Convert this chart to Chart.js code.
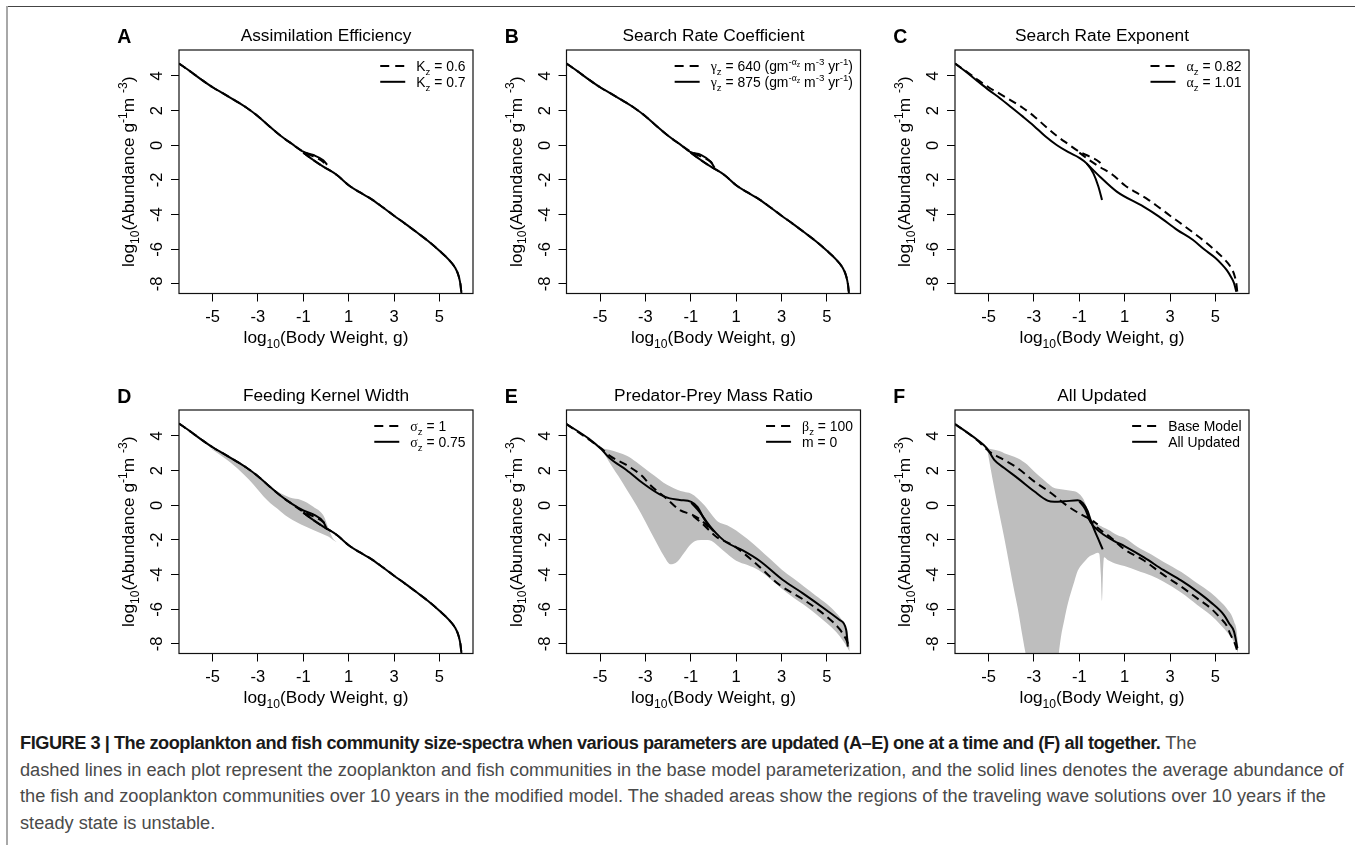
<!DOCTYPE html>
<html>
<head>
<meta charset="utf-8">
<script src="https://cdn.jsdelivr.net/npm/chart.js@4.4.1/dist/chart.umd.min.js"></script>
<style>
html, body { margin: 0; padding: 0; background: #fff; }
body { width: 1355px; height: 845px; position: relative; overflow: hidden; font-family: "Liberation Sans", Arial, sans-serif; }
canvas { position: absolute; }
#topline { position: absolute; left: 7px; top: 6px; width: 1348px; height: 1px; background: #444; }
#sideline { position: absolute; left: 6px; top: 6px; width: 2px; height: 839px; background: #a8a8a8; }
#caption { position: absolute; left: 20px; top: 730px; font-size: 16px; line-height: 26.7px; color: #4a4a4a; white-space: nowrap; }
#caption b { color: #1a1a1a; letter-spacing: -0.48px; }
</style>
</head>
<body>
<div id="topline"></div>
<div id="sideline"></div>
<div id="caption">
  <div><b>FIGURE 3 | The zooplankton and fish community size-spectra when various parameters are updated (A–E) one at a time and (F) all together.</b> The</div>
  <div id="l2">dashed lines in each plot represent the zooplankton and fish communities in the base model parameterization, and the solid lines denotes the average abundance of</div>
  <div>the fish and zooplankton communities over 10 years in the modified model. The shaded areas show the regions of the traveling wave solutions over 10 years if the</div>
  <div>steady state is unstable.</div>
</div>
<script>
// axes
const X_TICKS = [-5, -3, -1, 1, 3, 5];
const Y_TICKS = [-8, -6, -4, -2, 0, 2, 4];
const X_MIN = -6.48, X_MAX = 6.48, Y_MIN = -8.55, Y_MAX = 5.5;

// base model (dashed in A-D)
const baseZooX = [-6.48, -6.0, -5.5, -5.0, -4.5, -4.0, -3.5, -3.0, -2.5, -2.0, -1.5, -1.0, -0.56, -0.12, 0.05];
const baseZooY = [4.72, 4.28, 3.8, 3.35, 2.97, 2.58, 2.17, 1.68, 1.1, 0.55, 0.08, -0.37, -0.64, -0.96, -1.25];
const baseFishX = [-1.0, -0.56, -0.12, 0.48, 1.0, 1.5, 2.0, 2.5, 3.0, 3.5, 4.0, 4.5, 5.0, 5.4, 5.7, 5.85, 5.93, 5.97];
const baseFishY = [-0.42, -0.85, -1.23, -1.71, -2.3, -2.72, -3.1, -3.57, -4.06, -4.53, -5.02, -5.52, -6.08, -6.58, -7.08, -7.55, -8.05, -8.55];

// A: assimilation efficiency (solid)
const aZooY = [4.72, 4.28, 3.8, 3.35, 2.97, 2.58, 2.17, 1.68, 1.1, 0.55, 0.08, -0.37, -0.56, -0.86, -1.12];
// B: search rate coefficient (solid)
const bZooY = [4.72, 4.28, 3.8, 3.35, 2.97, 2.58, 2.17, 1.68, 1.1, 0.55, 0.08, -0.4, -0.55, -0.95, -1.3];

// C: search rate exponent (solid)
const cZooX = [-6.48, -6.0, -5.5, -5.0, -4.5, -4.0, -3.5, -3.0, -2.5, -2.0, -1.5, -1.0, -0.68, -0.38, -0.16, 0.0];
const cZooY = [4.72, 4.25, 3.72, 3.2, 2.72, 2.2, 1.67, 1.12, 0.52, 0.02, -0.38, -0.72, -1.04, -1.62, -2.38, -3.15];
const cFishX = [-0.68, -0.09, 0.65, 1.83, 2.5, 3.31, 4.0, 4.5, 5.0, 5.24, 5.5, 5.68, 5.82, 5.92];
const cFishY = [-1.04, -1.81, -2.67, -3.54, -4.1, -4.88, -5.45, -6.0, -6.5, -6.81, -7.2, -7.58, -7.95, -8.45];

// D: feeding kernel width (solid) + shaded range
const dZooY = [4.72, 4.28, 3.8, 3.35, 2.97, 2.58, 2.17, 1.68, 1.1, 0.55, 0.08, -0.3, -0.52, -0.95, -1.4];
const dShadeX = [-5.1, -4.6, -4.2, -3.6, -3.2, -2.6, -2.0, -1.6, -1.1, -0.56, -0.1, 0.1, 0.3, 0.5, 0.6];
const dShadeUp = [3.3, 3.05, 2.8, 2.3, 1.85, 1.2, 0.69, 0.45, 0.31, -0.08, -0.62, -1.3, -1.9, -2.15, -2.28];
const dShadeLo = [3.3, 2.85, 2.45, 1.75, 1.2, 0.3, -0.35, -0.75, -1.1, -1.42, -1.68, -1.8, -1.98, -2.15, -2.28];

// E: predator-prey mass ratio
const eDashZooX = [-6.48, -5.5, -4.94, -4.57, -3.84, -3.11, -2.81, -2.08, -1.49, -0.91, -0.47, -0.17];
const eDashZooY = [4.69, 3.8, 3.28, 2.85, 2.33, 1.65, 1.2, 0.4, -0.27, -0.56, -0.94, -1.33];
const eDashFishX = [-0.9, -0.5, 0.12, 0.85, 1.73, 2.92, 3.94, 4.97, 5.56, 5.85, 6.0];
const eDashFishY = [-0.62, -1.05, -1.81, -2.3, -3.2, -4.6, -5.42, -6.4, -7.15, -7.75, -8.2];
const eZooX = [-6.48, -5.5, -4.94, -4.57, -3.84, -3.11, -2.37, -1.93, -1.49, -0.98, -0.7, -0.45, -0.2, 0.02];
const eZooY = [4.69, 3.85, 3.23, 2.71, 2.04, 1.27, 0.63, 0.4, 0.31, 0.2, -0.1, -0.7, -1.2, -1.5];
const eFishX = [-0.98, -0.6, -0.3, 0.0, 0.3, 0.56, 1.29, 2.03, 3.06, 3.94, 4.97, 5.56, 5.85, 5.92];
const eFishY = [0.15, -0.4, -0.95, -1.45, -1.85, -2.13, -2.6, -3.2, -4.31, -5.08, -6.04, -6.62, -7.19, -8.15];
const eShadeX = [-4.95, -4.6, -4.2, -3.8, -3.4, -3.0, -2.6, -2.2, -1.9, -1.6, -1.3, -1.0, -0.7, -0.4, -0.1, 0.2, 0.6, 1.0, 1.5, 2.0, 2.5, 3.0, 3.5, 4.0, 4.5, 5.0, 5.4, 5.7, 5.9, 6.0];
const eShadeUp = [3.3, 3.2, 3.05, 2.85, 2.5, 2.1, 1.7, 1.3, 1.08, 0.9, 0.78, 0.68, 0.4, 0.0, -0.5, -0.95, -1.15, -1.45, -1.95, -2.5, -3.1, -3.7, -4.2, -4.7, -5.2, -5.7, -6.2, -6.7, -7.3, -8.1];
const eShadeLo = [3.3, 2.5, 1.7, 0.85, 0.0, -0.95, -1.95, -2.9, -3.4, -3.25, -2.75, -2.25, -2.02, -2.0, -2.05, -2.35, -2.8, -3.2, -3.45, -3.75, -4.25, -4.8, -5.3, -5.75, -6.25, -6.8, -7.3, -7.8, -8.2, -8.45];

// F: all updated
const fDashZooX = [-6.48, -5.5, -4.97, -4.46, -3.72, -2.99, -2.25, -1.51, -0.78, -0.49, -0.19];
const fDashZooY = [4.69, 3.75, 3.1, 2.72, 2.15, 1.38, 0.71, -0.05, -0.63, -0.82, -1.1];
const fDashFishX = [-0.63, -0.19, 0.4, 0.99, 1.87, 2.7, 3.5, 4.2, 4.8, 5.23, 5.5, 5.67, 5.85, 5.95];
const fDashFishY = [-0.72, -1.3, -1.87, -2.54, -3.2, -4.0, -4.7, -5.37, -5.95, -6.52, -6.95, -7.48, -7.95, -8.35];
const fZooX = [-6.48, -5.5, -5.07, -4.75, -4.31, -3.72, -2.99, -2.4, -2.1, -1.66, -1.07, -0.85, -0.63, -0.49, -0.19, 0.03];
const fZooY = [4.69, 3.78, 3.29, 2.62, 2.15, 1.57, 0.81, 0.27, 0.2, 0.23, 0.29, 0.14, -0.34, -0.91, -1.87, -2.54];
const fFishX = [-1.0, -0.75, -0.49, -0.04, 0.54, 0.99, 1.87, 2.7, 3.5, 4.2, 4.8, 5.38, 5.6, 5.82, 5.97];
const fFishY = [0.23, -0.2, -1.01, -1.58, -2.06, -2.35, -3.02, -3.73, -4.35, -4.98, -5.6, -6.33, -6.8, -7.29, -8.25];
const fShadeX = [-5.07, -4.75, -4.46, -4.31, -3.87, -3.72, -3.5, -3.3, -2.99, -2.6, -2.4, -2.1, -1.81, -1.66, -1.51, -1.22, -1.07, -0.85, -0.71, -0.56, -0.35, -0.19, -0.12, -0.05, 0.0, 0.04, 0.09, 0.25, 0.69, 0.99, 1.57, 2.16, 2.7, 3.5, 4.2, 4.8, 5.23, 5.5, 5.82, 5.97, 6.0];
const fShadeUp = [3.3, 3.2, 3.1, 3.0, 2.8, 2.72, 2.55, 2.35, 1.95, 1.5, 1.28, 1.0, 0.93, 0.9, 0.87, 0.81, 0.72, 0.42, 0.04, -0.55, -0.95, -1.1, -1.15, -1.2, -1.24, -1.27, -1.3, -1.39, -1.72, -1.87, -2.4, -2.83, -3.25, -3.85, -4.5, -5.05, -5.56, -5.95, -6.71, -7.67, -8.5];
const fShadeLo = [3.3, 1.0, -0.9, -1.87, -4.93, -5.9, -7.6, -9.0, -10.5, -11.5, -11.5, -10.5, -7.6, -6.6, -5.7, -4.4, -3.78, -3.35, -3.15, -2.95, -2.82, -2.73, -2.8, -4.0, -5.5, -4.0, -3.0, -3.15, -3.4, -3.5, -3.78, -4.05, -4.4, -5.05, -5.75, -6.35, -6.9, -7.3, -7.9, -8.44, -8.5];

const FONT = '"Liberation Sans", Arial, sans-serif';
const GREEK = '"Liberation Serif", "DejaVu Serif", serif';
const DASH = [8, 5];

const pts = (xs, ys) => xs.map((x, i) => ({ x, y: ys[i] }));

function line(xs, ys, dashed) {
    return {
        data: pts(xs, ys), borderColor: '#000', borderWidth: 2, borderDash: dashed ? DASH : [],
        borderJoinStyle: 'round', pointRadius: 0, fill: false, cubicInterpolationMode: 'monotone', order: 0
    };
}
function shade(xs, up, lo) {
    return [
        { data: pts(xs, up), borderWidth: 0, pointRadius: 0, fill: '+1', backgroundColor: '#bebebe', cubicInterpolationMode: 'monotone', order: 10 },
        { data: pts(xs, lo), borderWidth: 0, pointRadius: 0, fill: false, cubicInterpolationMode: 'monotone', order: 10 }
    ];
}

// rich text: [text, mode, greek]
const MODES = { n: [1, 0], sub: [0.7, 0.28], sup: [0.7, -0.42], ss: [0.5, -0.3] };
function richFont(p, size) {
    const m = MODES[p[1] || 'n'];
    return (m[0] * size) + 'px ' + (p[2] ? GREEK : FONT);
}
function richWidth(ctx, parts, size) {
    let w = 0;
    parts.forEach(p => { ctx.font = richFont(p, size); w += ctx.measureText(p[0]).width; });
    return w;
}
function drawRich(ctx, parts, x, y, size, align) {
    let cx = align === 'center' ? x - richWidth(ctx, parts, size) / 2 : x;
    ctx.textAlign = 'left';
    ctx.textBaseline = 'alphabetic';
    parts.forEach(p => {
        const m = MODES[p[1] || 'n'];
        ctx.font = richFont(p, size);
        ctx.fillText(p[0], cx, y + m[1] * size);
        cx += ctx.measureText(p[0]).width;
    });
}

const X_LABEL = [['log'], ['10', 'sub'], ['(Body Weight, g)']];
const Y_LABEL = [['log'], ['10', 'sub'], ['(Abundance g'], ['-1', 'sup'], ['m '], ['-3', 'sup'], [')']];

const panelDeco = {
    id: 'panelDeco',
    afterDraw(chart, args, o) {
        const ctx = chart.ctx, a = chart.chartArea;
        const xs = chart.scales.x, ys = chart.scales.y;
        ctx.save();
        ctx.fillStyle = '#000';
        ctx.strokeStyle = '#111';
        ctx.lineWidth = 1.2;
        ctx.strokeRect(a.left, a.top, a.right - a.left, a.bottom - a.top);

        // tick labels
        ctx.font = '16.5px ' + FONT;
        ctx.textAlign = 'center';
        ctx.textBaseline = 'alphabetic';
        X_TICKS.forEach(v => ctx.fillText(String(v), xs.getPixelForValue(v), a.bottom + 28));
        Y_TICKS.forEach(v => {
            ctx.save();
            ctx.translate(a.left - 17, ys.getPixelForValue(v));
            ctx.rotate(-Math.PI / 2);
            ctx.fillText(String(v), 0, 0);
            ctx.restore();
        });

        // axis titles
        drawRich(ctx, X_LABEL, (a.left + a.right) / 2, a.bottom + 49.5, 17.3, 'center');
        ctx.save();
        ctx.translate(a.left - 45, (a.top + a.bottom) / 2);
        ctx.rotate(-Math.PI / 2);
        drawRich(ctx, Y_LABEL, 0, 0, 17.3, 'center');
        ctx.restore();

        // title and panel letter
        ctx.font = '17.3px ' + FONT;
        ctx.textAlign = 'center';
        ctx.fillText(o.title, (a.left + a.right) / 2, a.top - 9.3);
        ctx.font = 'bold 19.5px ' + FONT;
        ctx.textAlign = 'left';
        ctx.fillText(o.letter, a.left - 61.7, a.top - 7);

        // legend (top right, no box)
        const size = 13.9;
        const maxW = Math.max(...o.legend.map(e => richWidth(ctx, e, size)));
        const tx = a.right - 7.5 - maxW;
        o.legend.forEach((e, i) => {
            const cy = a.top + 16 + i * 15.8;
            ctx.beginPath();
            ctx.lineWidth = 2;
            ctx.strokeStyle = '#000';
            ctx.setLineDash(i === 0 ? [9, 6] : []);
            ctx.moveTo(tx - 36, cy);
            ctx.lineTo(tx - 11, cy);
            ctx.stroke();
            ctx.setLineDash([]);
            drawRich(ctx, e, tx, cy + 5, size, 'left');
        });
        ctx.restore();
    }
};

const sz = ['z', 'sub'];
const panels = [
    { letter: 'A', title: 'Assimilation Efficiency', cl: 179, ct: 50,
      legend: [[['K'], sz, [' = 0.6']], [['K'], sz, [' = 0.7']]],
      datasets: [line(baseZooX, baseZooY, true), line(baseFishX, baseFishY, true), line(baseZooX, aZooY, false), line(baseFishX, baseFishY, false)] },
    { letter: 'B', title: 'Search Rate Coefficient', cl: 566.5, ct: 50,
      legend: [
        [['γ', 'n', 1], sz, [' = 640 (gm'], ['-', 'sup'], ['α', 'sup', 1], ['z', 'ss'], [' m'], ['-3', 'sup'], [' yr'], ['-1', 'sup'], [')']],
        [['γ', 'n', 1], sz, [' = 875 (gm'], ['-', 'sup'], ['α', 'sup', 1], ['z', 'ss'], [' m'], ['-3', 'sup'], [' yr'], ['-1', 'sup'], [')']]
      ],
      datasets: [line(baseZooX, baseZooY, true), line(baseFishX, baseFishY, true), line(baseZooX, bZooY, false), line(baseFishX, baseFishY, false)] },
    { letter: 'C', title: 'Search Rate Exponent', cl: 955, ct: 50,
      legend: [[['α', 'n', 1], sz, [' = 0.82']], [['α', 'n', 1], sz, [' = 1.01']]],
      datasets: [line(baseZooX, baseZooY, true), line(baseFishX, baseFishY, true), line(cZooX, cZooY, false), line(cFishX, cFishY, false)] },
    { letter: 'D', title: 'Feeding Kernel Width', cl: 179, ct: 410,
      legend: [[['σ', 'n', 1], sz, [' = 1']], [['σ', 'n', 1], sz, [' = 0.75']]],
      datasets: [...shade(dShadeX, dShadeUp, dShadeLo), line(baseZooX, baseZooY, true), line(baseFishX, baseFishY, true), line(baseZooX, dZooY, false), line(baseFishX, baseFishY, false)] },
    { letter: 'E', title: 'Predator-Prey Mass Ratio', cl: 566.5, ct: 410,
      legend: [[['β', 'n', 1], sz, [' = 100']], [['m = 0']]],
      datasets: [...shade(eShadeX, eShadeUp, eShadeLo), line(eDashZooX, eDashZooY, true), line(eDashFishX, eDashFishY, true), line(eZooX, eZooY, false), line(eFishX, eFishY, false)] },
    { letter: 'F', title: 'All Updated', cl: 955, ct: 410,
      legend: [[['Base Model']], [['All Updated']]],
      datasets: [...shade(fShadeX, fShadeUp, fShadeLo), line(fDashZooX, fDashZooY, true), line(fDashFishX, fDashFishY, true), line(fZooX, fZooY, false), line(fFishX, fFishY, false)] }
];

const CW = 294, CH = 243.5, YW = 60, XH = 40;
panels.forEach(p => {
    const left = Math.floor(p.cl - 125), top = p.ct - 50;
    const cv = document.createElement('canvas');
    cv.width = 431; cv.height = 355;
    cv.style.left = left + 'px'; cv.style.top = top + 'px';
    document.body.appendChild(cv);
    const axisGrid = { drawOnChartArea: false, drawTicks: true, tickLength: 8, color: '#000', lineWidth: 1 };
    new Chart(cv, {
        type: 'line',
        data: { datasets: p.datasets },
        options: {
            responsive: false, animation: false, events: [],
            layout: { padding: { left: p.cl - left - YW, top: 50, right: 431 - (p.cl - left) - CW, bottom: 355 - 50 - CH - XH } },
            plugins: { legend: { display: false }, tooltip: { enabled: false }, filler: { drawTime: 'beforeDatasetsDraw' },
                       panelDeco: { letter: p.letter, title: p.title, legend: p.legend } },
            scales: {
                x: { type: 'linear', min: X_MIN, max: X_MAX, bounds: 'data',
                     afterBuildTicks: s => { s.ticks = X_TICKS.map(v => ({ value: v })); },
                     afterFit: s => { s.height = XH; },
                     ticks: { display: false }, grid: axisGrid, border: { display: false } },
                y: { type: 'linear', min: Y_MIN, max: Y_MAX, bounds: 'data',
                     afterBuildTicks: s => { s.ticks = Y_TICKS.map(v => ({ value: v })); },
                     afterFit: s => { s.width = YW; },
                     ticks: { display: false }, grid: axisGrid, border: { display: false } }
            }
        },
        plugins: [panelDeco]
    });
});

// fit caption width to the reference line length
const l2 = document.getElementById('l2');
const cap = document.getElementById('caption');
const range = document.createRange(); range.selectNodeContents(l2);
const tw = range.getBoundingClientRect().width;
cap.style.fontSize = (16 * 1325 / tw).toFixed(2) + 'px';
</script>
</body>
</html>
